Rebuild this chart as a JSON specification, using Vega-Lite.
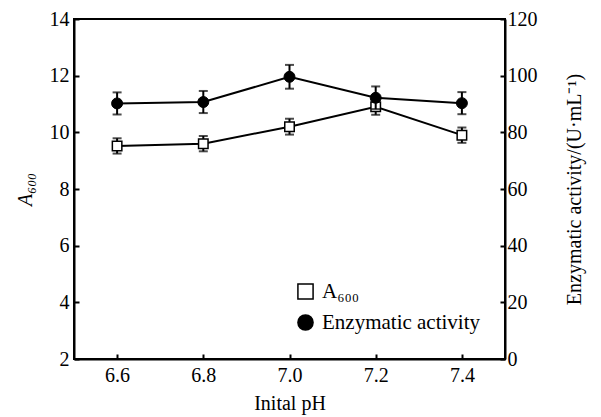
{
  "$schema": "https://vega.github.io/schema/vega-lite/v6.json",
  "width": 431,
  "height": 340,
  "autosize": {"type": "none"},
  "padding": {"left": 74, "top": 19, "right": 96, "bottom": 58},
  "background": "white",
  "config": {
    "view": {"stroke": "black", "strokeWidth": 2},
    "font": "Liberation Serif, serif",
    "axis": {
      "labelFont": "Liberation Serif, serif",
      "titleFont": "Liberation Serif, serif",
      "labelFontSize": 20,
      "titleFontSize": 20,
      "titleFontWeight": "normal",
      "labelColor": "black",
      "titleColor": "black",
      "domainColor": "black",
      "domainWidth": 2,
      "tickColor": "black",
      "tickWidth": 2,
      "tickSize": -5,
      "grid": false
    },
    "legend": {
      "labelFont": "Liberation Serif, serif",
      "labelFontSize": 21,
      "labelColor": "black",
      "symbolSize": 230,
      "rowPadding": 8,
      "labelOffset": 6
    }
  },
  "data": {
    "values": [
      {"ph": 6.6, "a600": 9.52, "a600_err": 0.27, "act": 90.2, "act_err": 3.9},
      {"ph": 6.8, "a600": 9.6, "a600_err": 0.27, "act": 90.7, "act_err": 3.9},
      {"ph": 7.0, "a600": 10.2, "a600_err": 0.28, "act": 99.6, "act_err": 4.2},
      {"ph": 7.2, "a600": 10.9, "a600_err": 0.28, "act": 92.2, "act_err": 4.0},
      {"ph": 7.4, "a600": 9.9, "a600_err": 0.27, "act": 90.3, "act_err": 3.9}
    ]
  },
  "encoding": {
    "x": {
      "field": "ph",
      "type": "quantitative",
      "scale": {"domain": [6.5, 7.5], "nice": false, "zero": false},
      "axis": {
        "values": [6.6, 6.8, 7.0, 7.2, 7.4],
        "format": ".1f",
        "title": "Inital pH",
        "labelPadding": 11,
        "titlePadding": 8
      }
    }
  },
  "layer": [
    {
      "encoding": {
        "y": {
          "field": "a600",
          "type": "quantitative",
          "scale": {"domain": [2, 14], "nice": false, "zero": false},
          "axis": {
            "orient": "left",
            "values": [2, 4, 6, 8, 10, 12, 14],
            "title": "A₆₀₀",
            "titleFontStyle": "italic",
            "labelPadding": 10,
            "titlePadding": 14
          }
        }
      },
      "layer": [
        {"mark": {"type": "line", "color": "black", "strokeWidth": 2}},
        {
          "mark": {"type": "errorbar", "color": "black", "thickness": 2, "ticks": {"size": 9, "color": "black"}},
          "encoding": {"yError": {"field": "a600_err"}}
        },
        {
          "mark": {"type": "point", "filled": true, "stroke": "black", "strokeWidth": 1.5, "size": 90, "opacity": 1},
          "encoding": {
            "shape": {
              "datum": "A₆₀₀",
              "scale": {"domain": ["A₆₀₀", "Enzymatic activity"], "range": ["square", "circle"]},
              "legend": {
                "title": null, "orient": "none", "legendX": 221, "legendY": 262,
                "encode": {"symbols": {"update": {"stroke": {"value": "black"}, "strokeWidth": {"value": 1}, "opacity": {"value": 1}}}}
              }
            },
            "fill": {
              "datum": "A₆₀₀",
              "scale": {"domain": ["A₆₀₀", "Enzymatic activity"], "range": ["white", "black"]},
              "legend": {
                "title": null, "orient": "none", "legendX": 221, "legendY": 262,
                "encode": {"symbols": {"update": {"stroke": {"value": "black"}, "strokeWidth": {"value": 1}, "opacity": {"value": 1}}}}
              }
            }
          }
        }
      ]
    },
    {
      "encoding": {
        "y": {
          "field": "act",
          "type": "quantitative",
          "scale": {"domain": [0, 120], "nice": false},
          "axis": {
            "orient": "right",
            "values": [0, 20, 40, 60, 80, 100, 120],
            "title": "Enzymatic activity/(U·mL⁻¹)",
            "titleAngle": 270,
            "labelPadding": 7,
            "titlePadding": 47
          }
        }
      },
      "layer": [
        {"mark": {"type": "line", "color": "black", "strokeWidth": 2}},
        {
          "mark": {"type": "errorbar", "color": "black", "thickness": 2, "ticks": {"size": 9, "color": "black"}},
          "encoding": {"yError": {"field": "act_err"}}
        },
        {
          "mark": {"type": "point", "filled": true, "stroke": "black", "strokeWidth": 1, "size": 120, "opacity": 1},
          "encoding": {
            "shape": {"datum": "Enzymatic activity"},
            "fill": {"datum": "Enzymatic activity"}
          }
        }
      ]
    }
  ],
  "resolve": {"scale": {"y": "independent"}}
}
